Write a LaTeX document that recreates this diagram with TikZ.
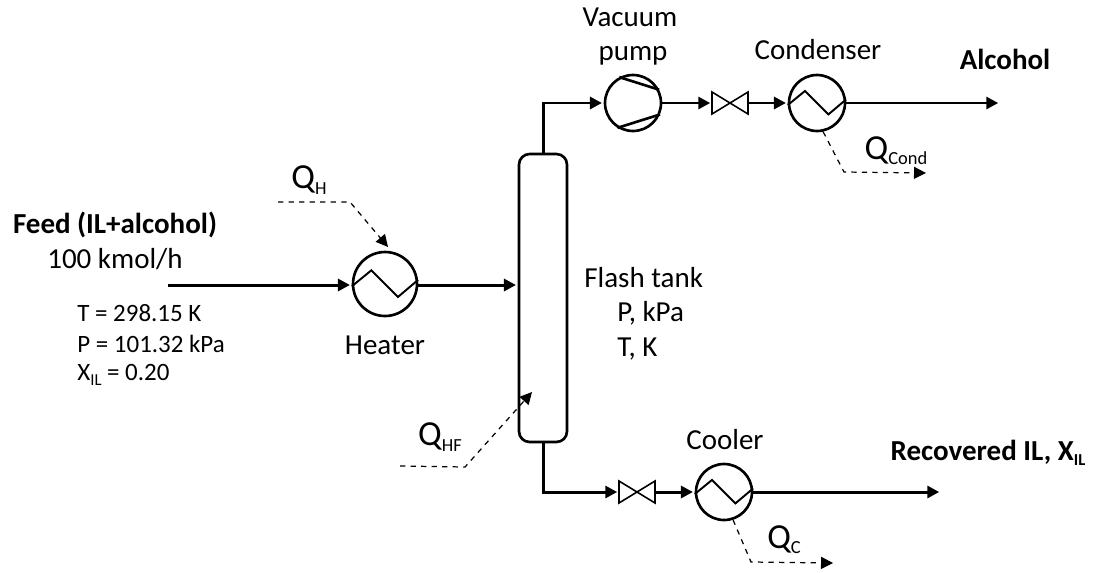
\documentclass[tikz,border=0pt]{standalone}
\usepackage{fontspec}
\setmainfont{Carlito}
\usetikzlibrary{arrows.meta,calc}
\newcommand{\qduty}[1]{Q\raisebox{-3pt}{\fontsize{10.5}{12}\selectfont #1}}
\newcommand{\xil}{X\raisebox{-3pt}{\fontsize{9.5}{11}\selectfont IL}}
\tikzset{
    unit/.style={shape=circle,draw=black,line width=1.5pt,minimum size=1.12cm,inner sep=0pt},
    valve/.style={shape=rectangle,minimum width=0.72cm,minimum height=0.44cm,inner sep=0pt,outer sep=0pt},
    pipe/.style={line width=1.7pt,-{Triangle[length=2.4mm,width=2.4mm]},shorten >=1pt},
    duty/.style={line width=0.7pt,dashed,-{Triangle[length=2.4mm,width=2.4mm]}},
    lbl/.style={font=\fontsize{16.5}{19}\selectfont,inner sep=0pt},
    small/.style={font=\fontsize{14.2}{17}\selectfont,inner sep=0pt,anchor=west},
    qlbl/.style={font=\fontsize{20}{24}\selectfont,inner sep=0pt}
}
\begin{document}
\begin{tikzpicture}[x=0.02cm,y=-0.02cm]
            \useasboundingbox (0,0) rectangle (1094,572);

            \node[unit,minimum size=1.28cm] (heater) at (385,284) {};
            \node[unit] (pump) at (633,103) {};
            \node[unit] (condenser) at (817,103) {};
            \node[unit] (cooler) at (724,492) {};
            \node[valve] (valve1) at (730,103) {};
            \node[valve] (valve2) at (637,492) {};
            \node[shape=rectangle,rounded corners=6pt,draw=black,line width=1.5pt,minimum width=0.96cm,minimum height=5.76cm,inner sep=0pt] (tank) at (543,298) {};

            \coordinate (feed) at (168,285);
            \coordinate (alcohol) at (1000,103);
            \coordinate (recovered) at (941,492);
            \coordinate (qh1) at (278,202);
            \coordinate (qh2) at (350,202);
            \coordinate (qhend) at (388,247);
            \coordinate (qhf1) at (400,466);
            \coordinate (qhf2) at (465,467);
            \coordinate (qhfend) at (532,392);
            \coordinate (qcond1) at (844,172);
            \coordinate (qcond2) at (926,173);
            \coordinate (qc1) at (751,562);
            \coordinate (qc2) at (833,563);

            %Symbols

            \foreach \n in {heater,condenser,cooler}
                \draw[line width=1.1pt] (\n.184) -- ($(\n.center)!0.58!(\n.135)$) -- ($(\n.center)!0.55!(\n.-45)$) -- (\n.7);
            \draw[line width=1.5pt] (pump.118) -- (pump.27);
            \draw[line width=1.5pt] (pump.-122) -- (pump.-23);
            \foreach \n in {valve1,valve2}
                \draw[line width=0.9pt] (\n.north west) -- (\n.south east) -- (\n.north east) -- (\n.south west) -- cycle;

            %Streams

            \draw[pipe] (feed) -- (heater.west |- feed);
            \draw[pipe] (heater.east |- feed) -- (tank.west |- feed);
            \draw[pipe] (tank.north) |- (pump.west);
            \draw[pipe] (pump.east) -- (valve1.west);
            \draw[pipe] (valve1.east) -- (condenser.west);
            \draw[pipe] (condenser.east) -- (alcohol);
            \draw[pipe] (tank.south) |- (valve2.west);
            \draw[pipe] (valve2.east) -- (cooler.west);
            \draw[pipe] (cooler.east) -- (recovered);

            %Duties

            \draw[duty] (qh1) -- (qh2) -- (qhend);
            \draw[duty] (qhf1) -- (qhf2) -- (qhfend);
            \draw[duty] (condenser.-78) -- (qcond1) -- (qcond2);
            \draw[duty] (cooler.-72) -- (qc1) -- (qc2);

            %Labels

            \node[lbl] (vacuum) at (630,17) {Vacuum};
            \node[lbl] (pumplbl) at (633,56) {pump};
            \node[lbl] (condenserlbl) at (818,50) {Condenser};
            \node[lbl] (heaterlbl) at (385,345) {Heater};
            \node[lbl] (coolerlbl) at (725,440) {Cooler};
            \node[lbl,anchor=west] (flash) at (584,278) {Flash tank};
            \node[lbl,anchor=west] (press) at (617,313) {P, kPa};
            \node[lbl,anchor=west] (temp) at (617,349) {T, K};
            \node[lbl] (feedlbl) at (115,225) {\textbf{Feed (IL+alcohol)}};
            \node[lbl] (flow) at (115,259) {100 kmol/h};
            \node[lbl] (alcohollbl) at (1005,59) {\textbf{Alcohol}};
            \node[lbl] (recoveredlbl) at (988,453) {\textbf{Recovered IL, \xil}};
            \node[small] (tin) at (77,313) {T = 298.15 K};
            \node[small] (pin) at (77,344) {P = 101.32 kPa};
            \node[small] (xin) at (77,375) {\xil{} = 0.20};
            \node[qlbl] (qhlbl) at (309,180) {\qduty{H}};
            \node[qlbl] (qhflbl) at (440,437) {\qduty{HF}};
            \node[qlbl] (qcondlbl) at (896,151) {\qduty{Cond}};
            \node[qlbl] (qclbl) at (784,540) {\qduty{C}};
        \end{tikzpicture}
\end{document}
